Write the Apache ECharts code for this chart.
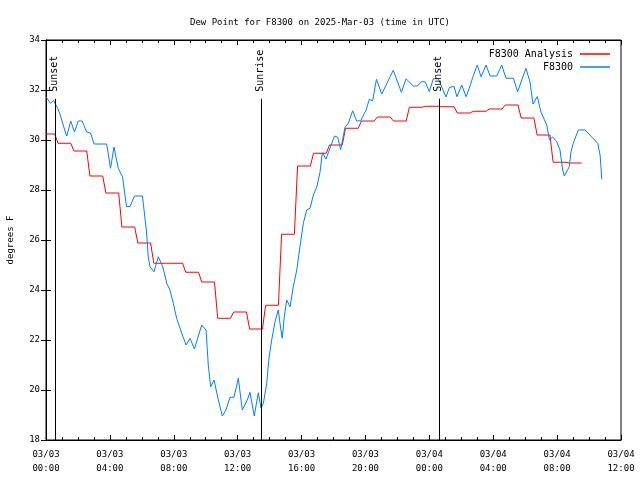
<!DOCTYPE html>
<html><head><meta charset="utf-8">
<script src="https://cdn.jsdelivr.net/npm/echarts@6/dist/echarts.min.js"></script>
<style>html,body{margin:0;padding:0;background:#fff}#c{width:640px;height:480px}</style>
</head><body><div id="c"></div>
<script>
const chartTitle = 'Dew Point for F8300 on 2025-Mar-03 (time in UTC)';
const yAxisName = 'degrees F';
const xTickLabels = ['03/03\n00:00','03/03\n04:00','03/03\n08:00','03/03\n12:00','03/03\n16:00','03/03\n20:00','03/04\n00:00','03/04\n04:00','03/04\n08:00','03/04\n12:00'];

// Analysis: hourly levels (hours after 03/03 00:00 UTC)
const analysisHours = [0,1,2,3,4,5,6,7,8,9,10,11,12,13,14,15,16,17,18,19,20,21,22,23,24,25,26,27,28,29,30,31,32,33];
const analysisValues = [30.24,29.87,29.56,28.56,27.88,26.52,25.88,25.07,25.07,24.71,24.32,22.87,23.12,22.44,23.39,26.23,28.96,29.47,29.80,30.47,30.76,30.92,30.76,31.31,31.35,31.33,31.08,31.15,31.24,31.40,30.88,30.20,29.11,29.08];
const analysisEnd = 33.54;

// Observations
const obsHours = [0,0.28,0.47,0.56,0.69,0.86,1.02,1.17,1.30,1.55,1.78,2.02,2.27,2.54,2.79,3.01,3.80,4.04,4.26,4.52,4.79,5.04,5.26,5.54,6.04,6.30,6.40,6.51,6.76,7.03,7.31,7.56,7.76,7.97,8.18,8.50,8.77,9.02,9.29,9.75,10.02,10.16,10.31,10.52,10.79,11.04,11.27,11.52,11.77,12.04,12.29,12.60,12.77,13.04,13.29,13.46,13.61,13.82,13.96,14.13,14.34,14.54,14.65,14.79,14.92,15.07,15.28,15.48,15.70,15.90,16.11,16.32,16.53,16.74,16.95,17.16,17.30,17.53,17.78,18.06,18.26,18.45,18.72,18.93,19.20,19.45,19.70,20.04,20.24,20.45,20.69,21.02,21.74,22.25,22.54,23.00,23.25,23.50,23.73,24.00,24.25,24.56,25.04,25.26,25.54,25.73,26.03,26.30,26.50,26.72,27.00,27.24,27.55,27.80,28.22,28.53,28.80,29.26,29.53,30.05,30.30,30.49,30.76,30.99,31.21,31.35,31.52,31.72,31.97,32.18,32.35,32.45,32.54,32.76,32.87,33.01,33.33,33.75,34.54,34.69,34.80,35.27];
const obsValues = [31.72,31.47,31.58,31.60,31.32,31.07,30.73,30.40,30.16,30.76,30.32,30.76,30.76,30.32,30.28,29.84,29.84,28.87,29.72,28.87,28.53,27.34,27.34,27.76,27.76,26.28,25.33,24.93,24.73,25.33,24.93,24.27,24.00,23.47,22.87,22.27,21.80,22.07,21.64,22.60,22.40,21.00,20.13,20.40,19.60,18.96,19.20,19.71,19.71,20.47,19.20,19.60,19.91,18.96,19.89,19.28,19.47,20.27,21.27,22.00,22.73,23.20,22.67,22.07,22.93,23.60,23.33,24.13,24.80,25.73,26.67,27.20,27.27,27.80,28.11,28.73,29.49,29.24,29.67,30.16,30.11,29.62,30.51,30.67,31.17,30.76,30.77,31.20,31.63,31.57,32.43,31.84,32.79,31.91,32.45,32.16,32.16,32.33,32.33,31.94,32.45,32.45,31.72,32.10,32.15,31.73,32.20,31.73,32.07,32.51,33.00,32.53,33.00,32.56,32.56,33.00,32.47,32.47,31.93,32.87,32.32,31.44,31.74,31.12,30.80,30.60,30.00,30.12,29.94,29.60,28.80,28.56,28.56,28.93,29.53,29.87,30.40,30.40,29.87,29.40,28.43];

const eventNames = ['Sunset','Sunrise','Sunset'];
const eventHours = [0.6, 13.49, 24.62];
const eventLineTop = 31.65;

const FONT = 'DejaVu Sans Mono';

// build step-like analysis path
const analysisData = [];
analysisHours.forEach((h, i) => {
  const v = analysisValues[i];
  const start = i === 0 ? h : h - 0.25;
  const end = i === analysisHours.length - 1 ? analysisEnd : h + 0.55;
  analysisData.push([start, v], [end, v]);
});
const obsData = obsHours.map((h, i) => [h, obsValues[i]]);

const chart = echarts.init(document.getElementById('c'), null, {renderer: 'canvas'});
const tickCommon = {show: true, inside: true, length: 5, lineStyle: {color: '#000', width: 1}};
const minorCommon = {show: true, splitNumber: 4, length: 3, lineStyle: {color: '#000', width: 1}};

chart.setOption({
  animation: false,
  backgroundColor: '#fff',
  title: {
    text: chartTitle, left: 'center', top: 13,
    textStyle: {fontFamily: FONT, fontSize: 9, fontWeight: 'normal', color: '#000'}
  },
  legend: [
    {data: ['F8300 Analysis'], right: 25, top: 44, align: 'right', icon: 'rect', itemWidth: 30, itemHeight: 1.5, itemGap: 7,
      textStyle: {fontFamily: FONT, fontSize: 10, color: '#000', padding: [0, 2, 0, 0]}, selectedMode: false},
    {data: ['F8300'], right: 25, top: 57, align: 'right', icon: 'rect', itemWidth: 30, itemHeight: 1.5, itemGap: 7,
      textStyle: {fontFamily: FONT, fontSize: 10, color: '#000', padding: [0, 2, 0, 0]}, selectedMode: false}
  ],
  grid: {left: 46, right: 19, top: 40, bottom: 40, show: true, borderColor: '#000', borderWidth: 1,
    containLabel: false, outerBoundsMode: 'none'},
  xAxis: [
    {type: 'value', min: 0, max: 36, interval: 4, position: 'bottom',
      axisLine: {show: true, lineStyle: {color: '#000'}},
      axisTick: tickCommon, minorTick: minorCommon, splitLine: {show: false},
      axisLabel: {margin: 8, fontFamily: FONT, fontSize: 9, color: '#000', lineHeight: 14, showMaxLabel: true, showMinLabel: true,
        formatter: v => xTickLabels[Math.round(v / 4)] || ''}},
    {type: 'value', min: 0, max: 36, interval: 4, position: 'top',
      axisLine: {show: true, lineStyle: {color: '#000'}},
      axisTick: tickCommon, minorTick: minorCommon, splitLine: {show: false}, axisLabel: {show: false}}
  ],
  yAxis: [
    {type: 'value', min: 18, max: 34, interval: 2, position: 'left',
      name: yAxisName, nameLocation: 'middle', nameGap: 31, nameRotate: 90,
      nameTextStyle: {fontFamily: FONT, fontSize: 9, color: '#000'},
      axisLine: {show: true, lineStyle: {color: '#000'}},
      axisTick: tickCommon, splitLine: {show: false},
      axisLabel: {margin: 6, fontFamily: FONT, fontSize: 9, color: '#000'}},
    {type: 'value', min: 18, max: 34, interval: 2, position: 'right',
      axisLine: {show: true, lineStyle: {color: '#000'}},
      axisTick: tickCommon, splitLine: {show: false}, axisLabel: {show: false}}
  ],
  series: [
    {name: 'F8300 Analysis', type: 'line', data: analysisData, showSymbol: false, symbol: 'none',
      itemStyle: {color: '#ff0000'}, lineStyle: {color: '#ff0000', width: 1}, z: 3,
      markLine: {silent: true, symbol: 'none', animation: false,
        lineStyle: {color: '#000', width: 1, type: 'solid'}, label: {show: false},
        data: eventHours.map(h => [{coord: [h, 18]}, {coord: [h, eventLineTop]}])},
      markPoint: {silent: true, symbol: 'circle', symbolSize: 0, animation: false,
        data: eventHours.map((h, i) => ({coord: [h, eventLineTop], value: eventNames[i],
          label: {show: true, formatter: eventNames[i], rotate: 90, position: [-1, -7], align: 'left', verticalAlign: 'middle',
            fontFamily: FONT, fontSize: 10, color: '#000'}}))}
    },
    {name: 'F8300', type: 'line', data: obsData, showSymbol: false, symbol: 'none',
      itemStyle: {color: '#0080ff'}, lineStyle: {color: '#0080ff', width: 1}, z: 4}
  ]
});
</script></body></html>
